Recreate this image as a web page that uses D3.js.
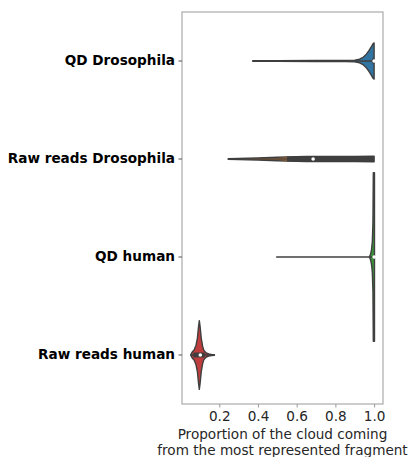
<!DOCTYPE html>
<html>
<head>
<meta charset="utf-8">
<script src="https://cdn.jsdelivr.net/npm/d3@7"></script>
<style>
body { margin: 0; background: #fff; }
text { font-family: "DejaVu Sans", sans-serif; }
</style>
</head>
<body>
<script>
const WIDTH = 413
const HEIGHT = 457

const MARGIN = {
    left: 182,
    right: 30,
    top: 12,
    bottom: 53
}

// data
const categories = ["QD Drosophila", "Raw reads Drosophila", "QD human", "Raw reads human"]
const xTicks = [0.2, 0.4, 0.6, 0.8, 1.0]

// density profiles: [value, half width as fraction of band]
const qdDrosophilaDensity = [
    [0.373, 0.003], [0.5, 0.004], [0.7, 0.005], [0.85, 0.006], [0.9, 0.009],
    [0.925, 0.018], [0.945, 0.04], [0.96, 0.07], [0.975, 0.11], [0.987, 0.15],
    [0.995, 0.178], [1.0, 0.184]
]
const rawDrosophilaDensity = [
    [0.246, 0.002], [0.3, 0.005], [0.4, 0.011], [0.5, 0.018], [0.55, 0.022],
    [0.65, 0.025], [0.8, 0.026], [0.9, 0.027], [1.0, 0.028]
]
const qdHumanDensity = [
    [0.976, 0.0], [0.982, 0.03], [0.987, 0.08], [0.991, 0.16], [0.994, 0.35],
    [0.996, 0.86], [1.0, 0.86], [1.002, 0.86]
]
const rawHumanDensity = [
    [0.052, 0.0], [0.06, 0.03], [0.07, 0.05], [0.08, 0.1], [0.087, 0.17],
    [0.093, 0.29], [0.097, 0.35], [0.101, 0.29], [0.107, 0.17], [0.114, 0.09],
    [0.12, 0.05], [0.13, 0.025], [0.145, 0.012], [0.16, 0.006], [0.175, 0.002]
]
const densities = [qdDrosophilaDensity, rawDrosophilaDensity, qdHumanDensity, rawHumanDensity]

// inner box stats
const whiskerLow = [0.373, 0.246, 0.494, 0.052]
const whiskerHigh = [1.0, 1.0, 1.0, 0.172]
const q1 = [0.99, 0.55, 0.999, 0.066]
const q3 = [1.0, 1.0, 1.0, 0.125]
const medians = [1.0, 0.685, 1.0, 0.102]

const COLOURS = ["#3274a1", "#e1812c", "#3a923a", "#c03d3e"]
const GRAY = "#3f3f3f"
const FONT_SIZE = 13.6

const svg = d3
    .select("body")
    .append("svg")
    .attr("width", WIDTH)
    .attr("height", HEIGHT)

const x = d3
    .scaleLinear()
    .domain([0.0075, 1.046])
    .range([MARGIN.left, WIDTH - MARGIN.right])

const y = d3
    .scaleBand()
    .domain(categories)
    .range([MARGIN.top, HEIGHT - MARGIN.bottom])

const bw = y.bandwidth()

// frame
svg.append("rect")
    .attr("x", MARGIN.left)
    .attr("y", MARGIN.top)
    .attr("width", WIDTH - MARGIN.right - MARGIN.left)
    .attr("height", HEIGHT - MARGIN.bottom - MARGIN.top)
    .attr("fill", "none")
    .attr("stroke", "#999")
    .attr("stroke-width", 1)

// violins
categories.forEach((c, i) => {
    const cy = y(c) + bw / 2
    const area = d3.area()
        .x(d => x(d[0]))
        .y0(d => cy - d[1] * bw)
        .y1(d => cy + d[1] * bw)
        .curve(d3.curveLinear)

    svg.append("path")
        .datum(densities[i])
        .attr("d", area)
        .attr("fill", COLOURS[i])
        .attr("stroke", GRAY)
        .attr("stroke-width", 1.4)
        .attr("stroke-linejoin", "round")

    svg.append("line")
        .attr("x1", x(whiskerLow[i]))
        .attr("x2", x(whiskerHigh[i]))
        .attr("y1", cy)
        .attr("y2", cy)
        .attr("stroke", GRAY)
        .attr("stroke-width", 1.6)

    svg.append("line")
        .attr("x1", x(q1[i]))
        .attr("x2", x(q3[i]))
        .attr("y1", cy)
        .attr("y2", cy)
        .attr("stroke", GRAY)
        .attr("stroke-width", 5)

    svg.append("circle")
        .attr("cx", x(medians[i]))
        .attr("cy", cy)
        .attr("r", 1.8)
        .attr("fill", "#fff")
})

// x axis
const xAxis = svg.append("g")
    .attr("transform", `translate(0,${HEIGHT - MARGIN.bottom})`)
    .call(d3.axisBottom(x).tickValues(xTicks).tickFormat(d3.format(".1f")).tickSize(3.5).tickPadding(4))
xAxis.select(".domain").remove()
xAxis.selectAll("line").attr("stroke", "#999")
xAxis.selectAll("text")
    .attr("font-size", FONT_SIZE)
    .attr("fill", "#262626")
    .attr("font-family", "DejaVu Sans")

// y axis
const yAxis = svg.append("g")
    .attr("transform", `translate(${MARGIN.left},0)`)
    .call(d3.axisLeft(y).tickSize(3.5).tickPadding(3.5))
yAxis.select(".domain").remove()
yAxis.selectAll("line").attr("stroke", "#555")
yAxis.selectAll("text")
    .attr("font-size", FONT_SIZE)
    .attr("font-weight", "bold")
    .attr("fill", "#000")
    .attr("font-family", "DejaVu Sans")

// x label
const cx = (MARGIN.left + WIDTH - MARGIN.right) / 2
svg.append("text")
    .attr("x", cx)
    .attr("y", 438.5)
    .attr("text-anchor", "middle")
    .attr("font-size", FONT_SIZE)
    .attr("fill", "#262626")
    .text("Proportion of the cloud coming")
svg.append("text")
    .attr("x", cx)
    .attr("y", 454.5)
    .attr("text-anchor", "middle")
    .attr("font-size", FONT_SIZE)
    .attr("fill", "#262626")
    .text("from the most represented fragment")
</script>
</body>
</html>
